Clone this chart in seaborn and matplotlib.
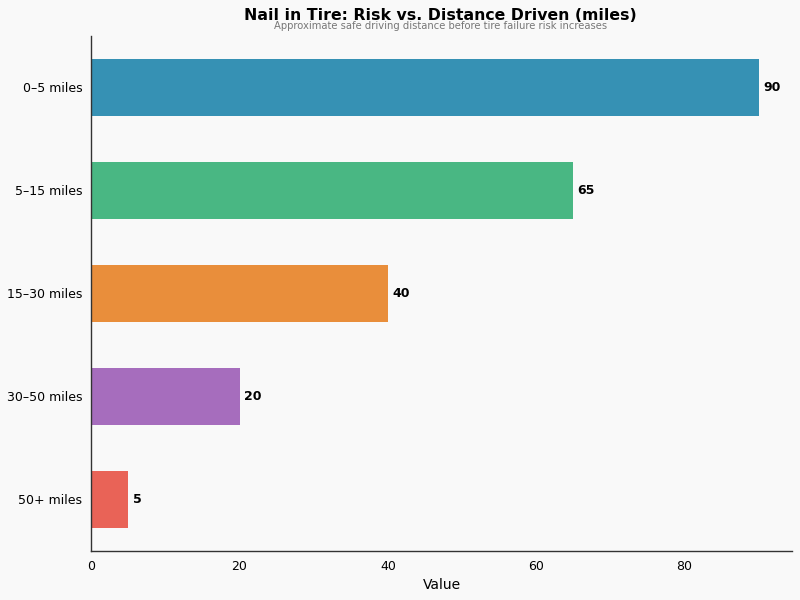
import pandas as pd
import matplotlib
matplotlib.use('Agg')
import matplotlib.pyplot as plt
import seaborn as sns

# Data
distancias = ['0–5 miles', '5–15 miles', '15–30 miles', '30–50 miles', '50+ miles']
valores = [90, 65, 40, 20, 5]
cores = ['#3691b4', '#49b783', '#e98e3b', '#a66dbd', '#e96357']

df = pd.DataFrame({'Distancia': distancias, 'Valor': valores})

sns.set_style('white')
plt.rcParams['font.family'] = ['DejaVu Sans']
plt.rcParams['text.color'] = 'black'
plt.rcParams['axes.labelcolor'] = 'black'
plt.rcParams['xtick.color'] = 'black'
plt.rcParams['ytick.color'] = 'black'

fig, ax = plt.subplots(figsize=(8, 6), dpi=100)
fig.patch.set_facecolor('#f9f9f9')
ax.set_facecolor('#f9f9f9')

sns.barplot(data=df, x='Valor', y='Distancia', hue='Distancia', palette=cores,
            orient='h', width=0.55, legend=False, ax=ax, saturation=1, linewidth=0)

for i, v in enumerate(valores):
    ax.text(v + 0.6, i, str(v), va='center', ha='left', fontsize=9, fontweight='bold')

ax.set_xlabel('Value', fontsize=10)
ax.set_ylabel('')
ax.tick_params(axis='both', labelsize=9, length=3)
ax.set_xticks([0, 20, 40, 60, 80])
sns.despine(ax=ax)
for s in ['left', 'bottom']:
    ax.spines[s].set_color('#333333')
    ax.spines[s].set_linewidth(1)

fig.text(0.551, 0.975, 'Nail in Tire: Risk vs. Distance Driven (miles)',
         ha='center', va='center', fontsize=11.3, fontweight='bold')
fig.text(0.551, 0.957, 'Approximate safe driving distance before tire failure risk increases',
         ha='center', va='center', fontsize=7.2, color='#777777')

plt.subplots_adjust(left=0.114, right=0.99, top=0.94, bottom=0.082)
plt.savefig('out.png', dpi=100, facecolor=fig.get_facecolor())
